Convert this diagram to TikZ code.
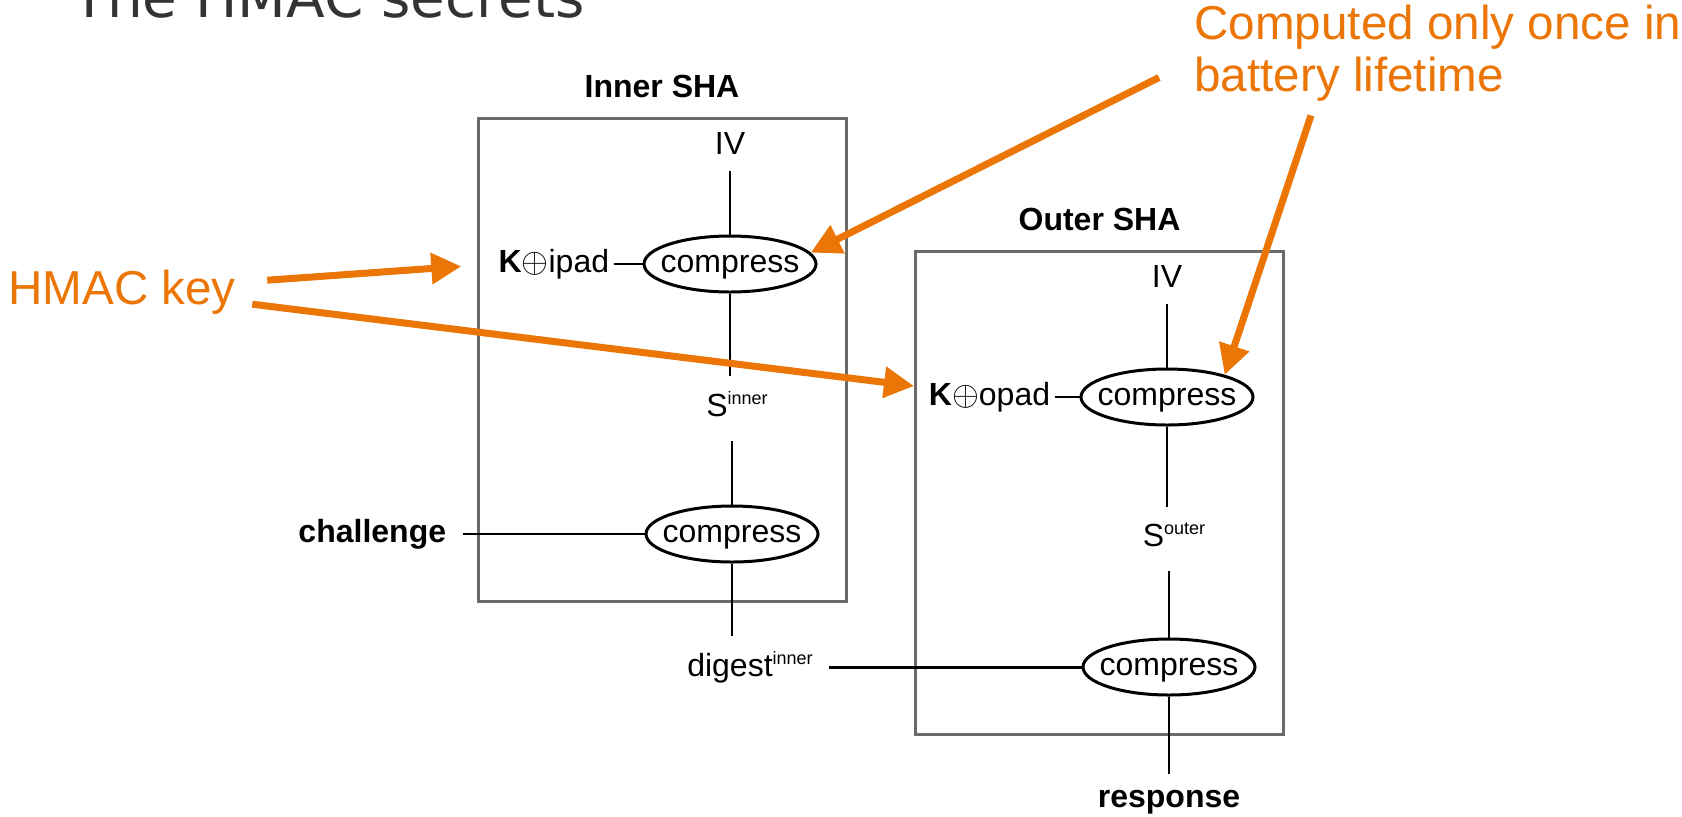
\documentclass[tikz,border=0pt]{standalone}
\usepackage{fontspec}
\setmainfont{Liberation Sans}
\newfontfamily\slidefont{DejaVu Sans}
\usetikzlibrary{positioning,shapes.geometric,arrows.meta}
\definecolor{hmorange}{HTML}{EB7606}
\definecolor{hmgrey}{HTML}{6A6A6A}
\definecolor{hmink}{HTML}{333333}
\newcommand\hsup[1]{\raisebox{6pt}{\fontsize{9}{9}\selectfont #1}}
\tikzset{
  lbl/.style={font=\fontsize{16}{19}\selectfont,inner sep=8pt},
  blbl/.style={lbl,font=\fontsize{16}{19}\selectfont\bfseries},
  sval/.style={lbl,text depth=4pt},
  xkey/.style={lbl,inner sep=2pt},
  cmp/.style={ellipse,draw=black,line width=1.5pt,minimum width=86pt,minimum height=28pt,inner sep=0pt,text depth=0pt,font=\fontsize{16}{19}\selectfont},
  shabox/.style={draw=hmgrey,line width=1.5pt,minimum width=184pt,minimum height=241.5pt,inner sep=0pt},
  boxname/.style={font=\fontsize{16}{19}\selectfont\bfseries,inner sep=0pt},
  wire/.style={line width=1.4pt,draw=black},
  keyarr/.style={-{Triangle[length=15pt,width=15pt]},line width=3.5pt,draw=hmorange},
  note/.style={font=\fontsize{23.8}{26}\selectfont,text=hmorange,align=left,inner sep=0pt},
}
\begin{document}
\begin{tikzpicture}[x=0.5pt,y=-0.5pt]
  \useasboundingbox (0,0) rectangle (1682,816);
  \node[font=\slidefont\fontsize{28.2}{30}\selectfont,text=hmink,inner sep=0pt,anchor=base east] (title) at (585,17) {The HMAC secrets};

  \node[shabox] (inbox) at (662,359.5) {};
  \node[boxname,above=9pt of inbox] (inname) {Inner SHA};
  \node[shabox] (outbox) at (1099.5,492.5) {};
  \node[boxname,above=9pt of outbox] (outname) {Outer SHA};

  \node[cmp] (cin1) at (730,264) {\makebox[0pt]{compress}};
  \node[lbl,above=32pt of cin1] (ivin) {IV};
  \node[xkey,left=14.5pt of cin1] (kin) {\textbf{K}${\oplus}$ipad};
  \node[sval,below=41pt of cin1,xshift=3.5pt] (sin) {S\hsup{inner}};
  \node[cmp] (cin2) at (732,534) {\makebox[0pt]{compress}};
  \node[blbl,left=91pt of cin2] (chal) {challenge};
  \node[lbl,below=36pt of cin2,xshift=9pt] (din) {digest\hsup{inner}};

  \node[cmp] (cout1) at (1167,397) {\makebox[0pt]{compress}};
  \node[lbl,above=32pt of cout1] (ivout) {IV};
  \node[xkey,left=12.5pt of cout1] (kout) {\textbf{K}${\oplus}$opad};
  \node[sval,below=40pt of cout1,xshift=3.5pt] (sout) {S\hsup{outer}};
  \node[cmp] (cout2) at (1169,667) {\makebox[0pt]{compress}};
  \node[blbl,below=38.5pt of cout2] (resp) {response};

  \draw[wire] (ivin) -- (cin1);
  \draw[wire] (kin) -- (cin1);
  \draw[wire] (cin1) -- (cin1 |- sin.north);
  \draw[wire] (cin2 |- sin.south) -- (cin2);
  \draw[wire] (chal) -- (cin2);
  \draw[wire] (cin2) -- (cin2 |- din.north);
  \draw[wire] (din) -- (din -| cout2.west);
  \draw[wire] (ivout) -- (cout1);
  \draw[wire] (kout) -- (cout1);
  \draw[wire] (cout1) -- (cout1 |- sout.north);
  \draw[wire] (cout2 |- sout.south) -- (cout2);
  \draw[wire] (cout2) -- (resp);

  \node[note,anchor=base west] (hkey) at (8,304) {HMAC key};
  \node[note,anchor=north west] (once) at (1194,5) {Computed only once in\\battery lifetime};

  \draw[keyarr,shorten >=16.5pt] ([xshift=15.5pt,yshift=5.75pt]hkey.east) -- (kin.west);
  \draw[keyarr] ([xshift=8pt,yshift=-6.25pt]hkey.east) -- ([yshift=53.25pt]outbox.west);
  \draw[keyarr] ([xshift=-17.5pt,yshift=12.35pt]once.south west) -- (cin1.8);
  \draw[keyarr] ([xshift=58.5pt,yshift=-6.65pt]once.south west) -- (cout1.21);
\end{tikzpicture}
\end{document}
